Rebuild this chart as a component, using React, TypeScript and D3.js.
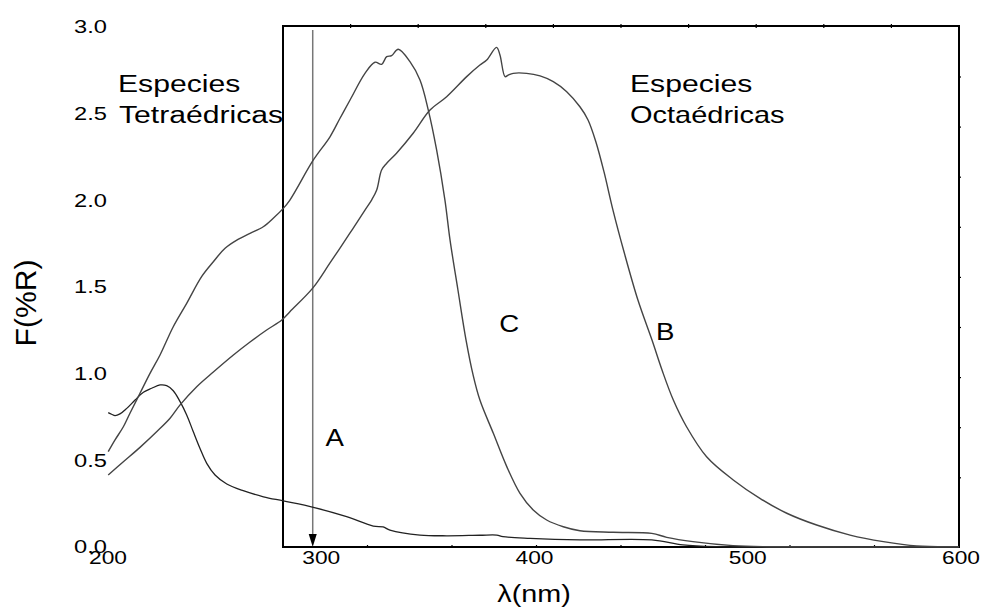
import React from "react";
import * as d3 from "d3";

// ---- data (wavelength in nm, F(%R)) ----
const curveA_nm = [200.1, 201.7, 203.3, 205.6, 208.8, 212.7, 216.6, 220.5, 224.4, 227.5, 230.6, 233.8, 236.9, 240.0, 243.1, 246.3, 250.2, 255.7, 263.4, 272.9, 282.2, 296.3, 311.9, 324.4, 329.0, 332.2, 346.3, 358.8, 374.4, 382.3, 385.2, 397.9, 421.3, 455.0, 469.6, 485.4, 599];
const curveA_F = [0.773, 0.764, 0.756, 0.766, 0.798, 0.846, 0.891, 0.914, 0.933, 0.929, 0.900, 0.837, 0.760, 0.663, 0.568, 0.481, 0.414, 0.362, 0.323, 0.288, 0.264, 0.227, 0.173, 0.119, 0.114, 0.096, 0.067, 0.063, 0.066, 0.067, 0.058, 0.048, 0.039, 0.039, 0.010, 0.0, 0.0];

const curveC_nm = [200.1, 203.3, 207.2, 210.3, 215.0, 219.7, 224.4, 230.6, 236.9, 243.9, 249.4, 254.9, 260.4, 266.6, 272.8, 277.5, 282.2, 285.3, 296.3, 304.1, 308.8, 313.5, 320.5, 325.2, 328.3, 330.7, 333.0, 336.1, 341.6, 346.3, 350.2, 354.1, 358.0, 360.4, 364.1, 367.9, 371.2, 374.4, 380.7, 387.0, 393.2, 399.4, 405.7, 413.5, 421.3, 436.9, 455.0, 462.0, 474.3, 493.1, 508.9, 599];
const curveC_F = [0.548, 0.616, 0.692, 0.770, 0.885, 1.000, 1.106, 1.269, 1.404, 1.558, 1.644, 1.722, 1.769, 1.808, 1.846, 1.895, 1.952, 2.000, 2.231, 2.365, 2.472, 2.577, 2.731, 2.795, 2.783, 2.827, 2.833, 2.870, 2.798, 2.692, 2.519, 2.289, 2.000, 1.769, 1.481, 1.192, 0.991, 0.846, 0.654, 0.462, 0.308, 0.212, 0.154, 0.115, 0.092, 0.083, 0.077, 0.054, 0.029, 0.006, 0.0, 0.0];

const curveB_nm = [200.1, 207.2, 215.0, 222.8, 229.1, 233.8, 241.6, 249.4, 258.8, 266.6, 274.4, 281.5, 285.3, 296.1, 304.1, 313.5, 320.5, 323.6, 326.0, 328.3, 330.7, 335.3, 343.1, 351.0, 358.8, 368.2, 374.4, 377.6, 382.2, 383.8, 386.2, 387.7, 390.0, 396.3, 402.6, 408.8, 415.1, 421.3, 425.1, 428.8, 432.6, 436.8, 442.0, 448.5, 455.1, 459.8, 465.1, 471.3, 480.7, 493.2, 505.7, 518.3, 532.3, 548.0, 563.6, 579.2, 599];
const curveB_F = [0.414, 0.490, 0.573, 0.663, 0.741, 0.818, 0.923, 1.008, 1.106, 1.181, 1.250, 1.308, 1.356, 1.493, 1.637, 1.810, 1.942, 2.000, 2.058, 2.173, 2.212, 2.270, 2.385, 2.519, 2.596, 2.712, 2.779, 2.808, 2.881, 2.837, 2.712, 2.721, 2.731, 2.731, 2.716, 2.683, 2.625, 2.538, 2.462, 2.335, 2.162, 1.942, 1.700, 1.423, 1.192, 1.019, 0.846, 0.692, 0.519, 0.385, 0.279, 0.193, 0.125, 0.067, 0.029, 0.004, 0.0];

const xTickValues = [200, 300, 400, 500, 600];
const yTickValues = [0.0, 0.5, 1.0, 1.5, 2.0, 2.5, 3.0];

const curveLabels = [
  { text: "A", nm: 302, F: 0.58 },
  { text: "B", nm: 457, F: 1.19 },
  { text: "C", nm: 383.5, F: 1.24 },
];
const arrowNm = 296;

// ---- layout ----
const W = 984, H = 607;
const BOX = { left: 283, right: 959, top: 26, bottom: 547 };
const FONT = "'Liberation Sans', Arial, Helvetica, sans-serif";
const SX = 1.3;

const x = d3.scaleLinear().domain([200, 600]).range([108, 961]);
const y = d3.scaleLinear().domain([0, 3]).range([546.7, 26.7]);

const line = d3
  .line<[number, number]>()
  .x((d) => x(d[0]))
  .y((d) => y(d[1]))
  .curve(d3.curveCatmullRom.alpha(0.5));

const zip = (a: number[], b: number[]) => a.map((v, i) => [v, b[i]] as [number, number]);

function T({ x0, y0, size, anchor = "start", children, sx = SX, fill = "#000" }: any) {
  return (
    <text
      transform={`translate(${x0},${y0}) scale(${sx},1)`}
      fontSize={size}
      textAnchor={anchor}
      fontFamily={FONT}
      fill={fill}
    >
      {children}
    </text>
  );
}

export default function App() {
  const topTicks = d3.range(1, 10).map((k) => BOX.left + ((BOX.right - BOX.left) / 10) * k);
  const botTicks = d3.range(1, 8).map((k) => BOX.left + ((BOX.right - BOX.left) / 8) * k);
  const rightTicks = d3.range(0, 9).map((k) => 77 + 50.1 * k);
  const ax = x(arrowNm);
  return (
    <svg
      width={W}
      height={H}
      style={{ position: "absolute", left: 0, top: 0, background: "#fff" }}
    >
      {/* frame */}
      <rect
        x={BOX.left}
        y={BOX.top}
        width={BOX.right - BOX.left}
        height={BOX.bottom - BOX.top}
        fill="none"
        stroke="#000"
        strokeWidth={2}
      />
      {topTicks.map((t, i) => (
        <line key={"tt" + i} x1={t} x2={t} y1={BOX.top - 2} y2={BOX.top + 2} stroke="#000" strokeWidth={1.2} />
      ))}
      {botTicks.map((t, i) => (
        <line key={"bt" + i} x1={t} x2={t} y1={BOX.bottom - 2} y2={BOX.bottom + 1} stroke="#000" strokeWidth={1.2} />
      ))}
      {rightTicks.map((t, i) => (
        <line key={"rt" + i} x1={BOX.right - 1} x2={BOX.right + 2} y1={t} y2={t} stroke="#000" strokeWidth={1.2} />
      ))}

      {/* arrow */}
      <line x1={ax} x2={ax} y1={30} y2={BOX.bottom - 10} stroke="#777" strokeWidth={1.5} />
      <path d={`M${ax - 4},${BOX.bottom - 13} L${ax + 4},${BOX.bottom - 13} L${ax},${BOX.bottom} Z`} fill="#000" />

      {/* curves */}
      <path d={line(zip(curveA_nm, curveA_F)) || ""} fill="none" stroke="#222" strokeWidth={1.3} />
      <path d={line(zip(curveC_nm, curveC_F)) || ""} fill="none" stroke="#444" strokeWidth={1.4} />
      <path d={line(zip(curveB_nm, curveB_F)) || ""} fill="none" stroke="#444" strokeWidth={1.4} />

      {/* y tick labels */}
      {yTickValues.map((v) => (
        <T key={"y" + v} x0={107} y0={y(v) + 6.7} size={18.5} anchor="end" sx={1.28}>
          {v.toFixed(1)}
        </T>
      ))}
      {/* x tick labels */}
      {xTickValues.map((v) => (
        <T key={"x" + v} x0={x(v)} y0={563.5} size={17.5} anchor="middle">
          {String(v)}
        </T>
      ))}

      {/* axis titles */}
      <T x0={534} y0={602} size={23} anchor="middle" sx={1.25}>
        λ(nm)
      </T>
      <text
        transform={`translate(36,303) scale(1.3,1) rotate(-90)`}
        fontSize={23}
        textAnchor="middle"
        fontFamily={FONT}
        textLength={87}
        lengthAdjust="spacingAndGlyphs"
      >
        F(%R)
      </text>

      {/* annotations */}
      <T x0={118} y0={92} size={23} sx={1.31}>Especies</T>
      <T x0={119} y0={123} size={23} sx={1.31}>Tetraédricas</T>
      <T x0={630} y0={92} size={23} sx={1.31}>Especies</T>
      <T x0={630} y0={123} size={23} sx={1.26}>Octaédricas</T>

      {curveLabels.map((c) => (
        <T key={c.text} x0={x(c.nm)} y0={y(c.F)} size={23} sx={1.2}>
          {c.text}
        </T>
      ))}
    </svg>
  );
}
